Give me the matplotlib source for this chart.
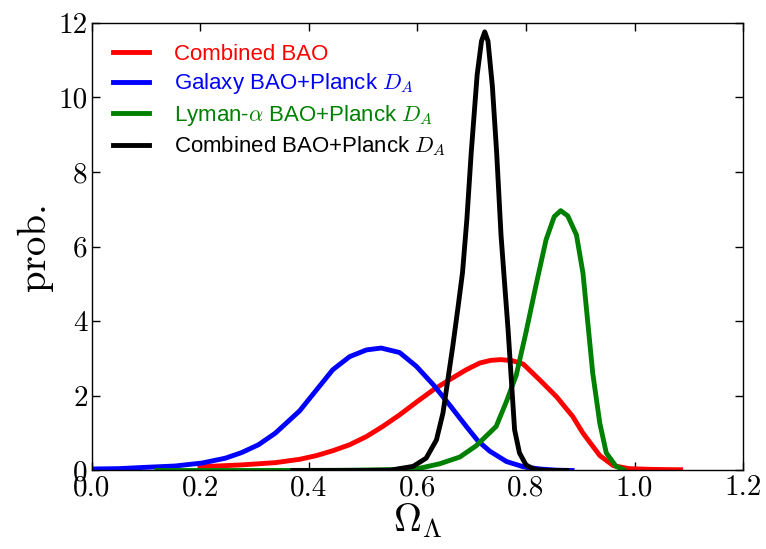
import matplotlib
matplotlib.use('Agg')
import matplotlib.pyplot as plt

plt.rcParams['mathtext.fontset'] = 'cm'

# Combined BAO
red_x = [0.199, 0.276, 0.338, 0.383, 0.414, 0.444, 0.475, 0.506, 0.536, 0.567, 0.598, 0.629, 0.659,
         0.690, 0.715, 0.735, 0.754, 0.775, 0.795, 0.825, 0.856, 0.886, 0.905, 0.936, 0.961, 0.99,
         1.03, 1.085]
red_y = [0.10, 0.15, 0.21, 0.30, 0.40, 0.53, 0.69, 0.91, 1.18, 1.49, 1.83, 2.16, 2.43,
         2.70, 2.88, 2.95, 2.97, 2.94, 2.85, 2.43, 1.98, 1.45, 1.0, 0.40, 0.13, 0.05,
         0.03, 0.02]

# Galaxy BAO + Planck D_A
blue_x = [0.0, 0.05, 0.092, 0.153, 0.203, 0.246, 0.276, 0.307, 0.338, 0.368, 0.383, 0.399, 0.414,
          0.444, 0.475, 0.506, 0.533, 0.567, 0.598, 0.629, 0.659, 0.690, 0.711, 0.733, 0.764, 0.795,
          0.826, 0.855, 0.885]
blue_y = [0.04, 0.05, 0.08, 0.12, 0.2, 0.33, 0.48, 0.69, 1.0, 1.40, 1.6, 1.89, 2.16,
          2.70, 3.05, 3.23, 3.28, 3.16, 2.79, 2.30, 1.76, 1.18, 0.80, 0.52, 0.24, 0.10,
          0.04, 0.01, 0.0]

# Lyman-alpha BAO + Planck D_A
green_x = [0.12, 0.3, 0.45, 0.55, 0.604, 0.641, 0.678, 0.708, 0.745, 0.764, 0.782, 0.800, 0.819,
           0.837, 0.852, 0.864, 0.877, 0.893, 0.905, 0.914, 0.923, 0.936, 0.948, 0.966, 0.980]
green_y = [0.0, 0.0, 0.005, 0.02, 0.06, 0.18, 0.36, 0.66, 1.18, 1.85, 2.55, 3.70, 5.0,
           6.18, 6.80, 6.96, 6.82, 6.31, 5.29, 3.95, 2.61, 1.27, 0.47, 0.11, 0.02]

# Combined BAO + Planck D_A
black_x = [0.37, 0.5, 0.55, 0.592, 0.616, 0.635, 0.647, 0.656, 0.665, 0.675, 0.683, 0.691, 0.699,
           0.710, 0.718, 0.724, 0.730, 0.738, 0.746, 0.754, 0.761, 0.767, 0.773, 0.779, 0.788,
           0.80, 0.815, 0.84, 0.875]
black_y = [0.0, 0.0, 0.01, 0.11, 0.33, 0.82, 1.54, 2.43, 3.32, 4.4, 5.3, 6.72, 8.5,
           10.6, 11.5, 11.75, 11.5, 10.3, 8.5, 6.3, 4.93, 3.77, 2.43, 1.09, 0.47,
           0.15, 0.03, 0.0, 0.0]

labels = ['Combined BAO',
          r'Galaxy BAO+Planck $D_A$',
          r'Lyman-$\alpha$ BAO+Planck $D_A$',
          r'Combined BAO+Planck $D_A$']

fig = plt.figure(figsize=(7.66, 5.49), dpi=100)
ax = fig.add_axes([0.120, 0.143, 0.850, 0.816])

ax.plot(red_x, red_y, color='red', lw=3.5, label=labels[0])
ax.plot(blue_x, blue_y, color='blue', lw=3.5, label=labels[1])
ax.plot(green_x, green_y, color='green', lw=3.5, label=labels[2])
ax.plot(black_x, black_y, color='black', lw=3.5, label=labels[3])

ax.set_xlim(0, 1.2)
ax.set_ylim(0, 12)
ax.set_xticks([0.0, 0.2, 0.4, 0.6, 0.8, 1.0, 1.2])
ax.set_yticks([0, 2, 4, 6, 8, 10, 12])
ax.set_xticklabels(['0.0', '0.2', '0.4', '0.6', '0.8', '1.0', '1.2'])
ax.tick_params(direction='in', top=True, right=True, length=6, width=1,
               labelsize=21, labelfontfamily='cmr10', pad=3)
for s in ax.spines.values():
    s.set_linewidth(1.0)

ax.set_xlabel(r'$\Omega_\Lambda$', fontsize=28, labelpad=0)
ax.set_ylabel('prob.', fontsize=28, family='cmr10', labelpad=4)

leg = ax.legend(loc='upper left', frameon=False, labelcolor='linecolor',
                prop={'family': 'Liberation Sans', 'size': 16},
                handlelength=1.6, handletextpad=1.15, labelspacing=0.3,
                borderpad=0.4, borderaxespad=0.55)

fig.savefig('out.png', dpi=100)
